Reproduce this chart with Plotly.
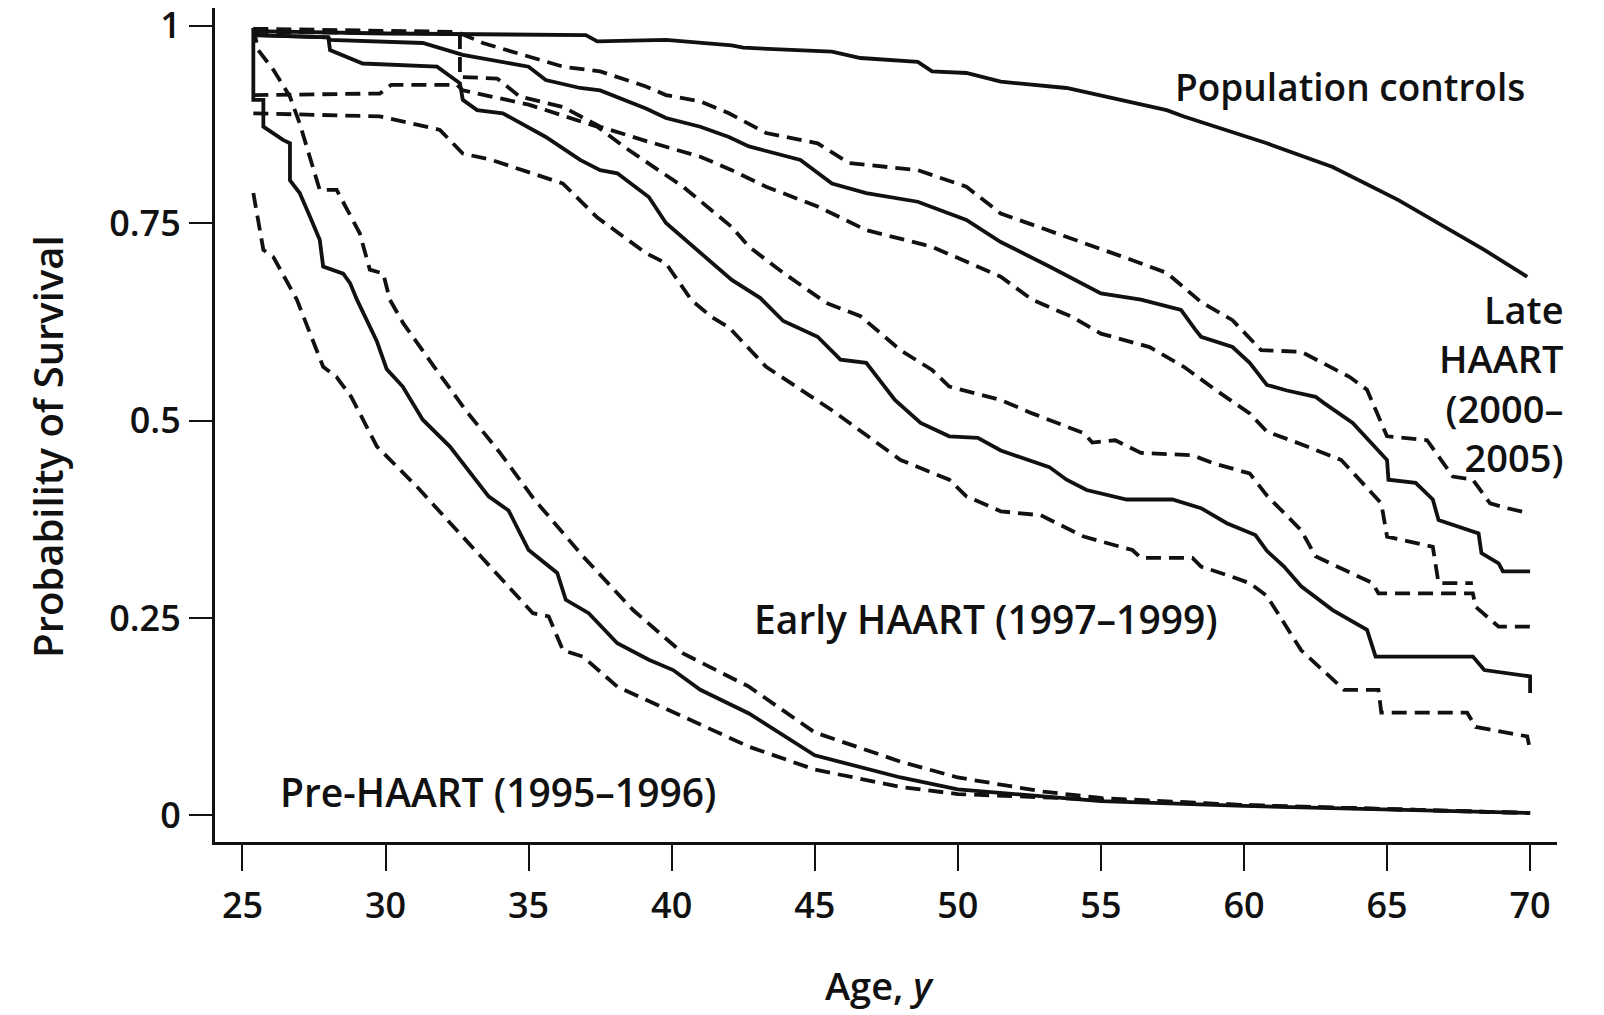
import plotly.graph_objects as go

# ---------------- data ----------------
age_ticks = [25, 30, 35, 40, 45, 50, 55, 60, 65, 70]
surv_ticks = [0, 0.25, 0.5, 0.75, 1]
surv_tick_labels = ["0", "0.25", "0.5", "0.75", "1"]

pop_age = [25.38, 30.0, 37.0, 37.4, 39.8, 42.1, 42.5, 45.6, 46.6, 48.6, 49.1, 50.3, 51.5,
           53.8, 57.3, 57.9, 60.8, 63.1, 65.4, 68.4, 69.9]
pop_surv = [0.993, 0.990, 0.988, 0.980, 0.982, 0.975, 0.972, 0.967, 0.959, 0.954, 0.942, 0.940,
            0.929, 0.921, 0.893, 0.885, 0.851, 0.821, 0.779, 0.716, 0.682]

late_age = [25.38, 28.0, 28.06, 31.3, 32.7, 35.0, 35.6, 36.8, 37.5, 39.1, 39.8, 41.0, 42.0,
            42.7, 44.5, 45.6, 46.8, 48.6, 50.3, 51.5, 53.2, 55.0, 56.4, 57.8, 58.3, 58.5, 59.6,
            60.2, 60.8, 61.5, 62.5, 62.8, 63.8, 65.0, 65.05, 66.0, 66.6, 66.8, 68.2, 68.3, 68.9,
            69.05, 70.0]
late_surv = [0.988, 0.985, 0.982, 0.978, 0.963, 0.948, 0.931, 0.921, 0.918, 0.895, 0.883, 0.872,
             0.859, 0.847, 0.830, 0.800, 0.788, 0.777, 0.754, 0.726, 0.695, 0.661, 0.653, 0.640,
             0.615, 0.606, 0.593, 0.573, 0.545, 0.538, 0.530, 0.522, 0.497, 0.450, 0.425, 0.421,
             0.400, 0.374, 0.357, 0.332, 0.319, 0.309, 0.309]

late_up_age = [25.38, 32.5, 33.4, 36.2, 37.5, 39.1, 39.8, 41.0, 42.0, 43.3, 45.1, 46.2, 48.6,
               50.3, 51.5, 53.8, 56.1, 57.3, 58.5, 59.6, 60.6, 62.0, 63.7, 64.3, 65.0, 66.4,
               66.8, 67.3, 68.0, 68.6, 69.2, 69.9]
late_up_surv = [0.996, 0.992, 0.978, 0.948, 0.942, 0.923, 0.912, 0.904, 0.889, 0.864, 0.851,
                0.826, 0.817, 0.796, 0.762, 0.733, 0.703, 0.687, 0.650, 0.627, 0.589, 0.587,
                0.555, 0.539, 0.480, 0.475, 0.454, 0.429, 0.425, 0.395, 0.389, 0.383]

late_lo_age = [25.38, 32.6, 32.6, 33.9, 34.7, 36.2, 37.5, 39.0, 41.0, 42.1, 43.3, 45.1, 46.8,
               49.1, 51.5, 52.6, 54.0, 55.0, 56.7, 57.9, 59.0, 60.2, 60.8, 62.0, 63.4, 64.8,
               65.0, 66.6, 66.8, 68.0]
late_lo_surv = [0.992, 0.990, 0.935, 0.933, 0.910, 0.897, 0.872, 0.855, 0.834, 0.817, 0.796,
                0.771, 0.741, 0.720, 0.682, 0.653, 0.631, 0.610, 0.593, 0.568, 0.539, 0.509,
                0.486, 0.470, 0.450, 0.395, 0.353, 0.340, 0.294, 0.294]

early_age = [25.38, 28.0, 28.06, 29.2, 31.8, 32.6, 32.7, 33.2, 34.1, 35.6, 36.8, 37.5, 38.1,
             39.2, 39.8, 41.0, 42.1, 43.1, 43.9, 45.1, 45.9, 46.8, 47.8, 48.7, 49.7, 50.7, 51.5,
             53.2, 53.8, 54.5, 55.9, 57.5, 58.5, 59.4, 60.4, 60.8, 61.4, 62.0, 63.1, 64.3, 64.6,
             68.0, 68.4, 70.0, 70.0]
early_surv = [0.988, 0.985, 0.969, 0.952, 0.948, 0.927, 0.906, 0.893, 0.889, 0.859, 0.830, 0.817,
              0.813, 0.783, 0.750, 0.712, 0.678, 0.655, 0.626, 0.606, 0.577, 0.573, 0.526, 0.497,
              0.480, 0.478, 0.462, 0.441, 0.425, 0.412, 0.400, 0.400, 0.389, 0.370, 0.355, 0.335,
              0.315, 0.290, 0.260, 0.235, 0.201, 0.201, 0.184, 0.176, 0.155]

early_up_age = [25.38, 29.8, 30.2, 32.5, 32.7, 35.0, 37.4, 38.4, 39.7, 40.4, 42.1, 42.7, 43.9,
                45.4, 46.6, 48.0, 49.1, 49.7, 51.5, 52.6, 54.4, 54.7, 55.5, 56.4, 58.2, 59.0,
                60.2, 60.8, 61.4, 62.0, 62.5, 64.5, 64.7, 68.0, 68.1, 68.9, 70.0]
early_up_surv = [0.912, 0.914, 0.925, 0.925, 0.918, 0.900, 0.872, 0.845, 0.813, 0.796, 0.745,
                 0.720, 0.687, 0.649, 0.632, 0.589, 0.564, 0.543, 0.526, 0.509, 0.484, 0.472,
                 0.475, 0.459, 0.456, 0.445, 0.433, 0.405, 0.383, 0.361, 0.328, 0.294, 0.281,
                 0.281, 0.264, 0.239, 0.239]

early_lo_age = [25.38, 29.8, 31.9, 32.7, 33.7, 36.2, 37.4, 39.1, 39.8, 40.7, 41.4, 42.0, 43.3,
                45.6, 48.0, 49.7, 50.3, 51.5, 52.9, 54.4, 56.1, 56.4, 58.2, 58.5, 59.6, 60.2,
                60.8, 62.0, 63.5, 64.7, 64.8, 67.8, 68.1, 69.9, 70.0]
early_lo_surv = [0.889, 0.885, 0.868, 0.838, 0.830, 0.800, 0.757, 0.712, 0.699, 0.652, 0.631,
                 0.618, 0.568, 0.513, 0.450, 0.425, 0.404, 0.385, 0.380, 0.353, 0.336, 0.326,
                 0.326, 0.315, 0.302, 0.294, 0.278, 0.209, 0.159, 0.159, 0.130, 0.130, 0.112,
                 0.100, 0.083]

pre_age = [25.38, 25.38, 25.73, 25.73, 26.43, 26.66, 26.66, 27.0, 27.36, 27.7, 27.82, 28.52,
           28.76, 29.0, 29.7, 30.04, 30.6, 31.3, 32.25, 32.8, 33.6, 34.3, 35.0, 36.0, 36.3, 37.1,
           38.1, 39.2, 40.05, 41.0, 42.7, 45.0, 48.0, 50.0, 55.0, 60.0, 65.0, 70.0]
pre_surv = [0.997, 0.906, 0.906, 0.872, 0.855, 0.851, 0.804, 0.788, 0.758, 0.729, 0.695, 0.686,
            0.674, 0.653, 0.600, 0.565, 0.543, 0.501, 0.467, 0.441, 0.404, 0.386, 0.336, 0.307,
            0.273, 0.256, 0.218, 0.197, 0.184, 0.159, 0.129, 0.076, 0.048, 0.033, 0.018, 0.012,
            0.008, 0.003]

pre_up_age = [25.38, 25.55, 26.08, 26.66, 27.0, 27.36, 27.7, 28.29, 29.1, 29.45, 29.92, 30.15,
              30.62, 31.7, 32.8, 34.0, 35.2, 36.9, 38.65, 40.4, 42.7, 45.0, 48.0, 50.0, 53.0,
              55.0, 60.0, 65.0, 70.0]
pre_up_surv = [0.997, 0.969, 0.944, 0.910, 0.876, 0.834, 0.792, 0.792, 0.737, 0.691, 0.686,
               0.653, 0.623, 0.568, 0.513, 0.459, 0.400, 0.328, 0.260, 0.205, 0.163, 0.105,
               0.068, 0.048, 0.030, 0.022, 0.013, 0.008, 0.003]

pre_lo_age = [25.38, 25.73, 26.08, 26.9, 27.82, 28.29, 28.8, 29.7, 31.1, 32.8, 34.0, 35.15,
              35.7, 36.2, 36.9, 38.1, 40.4, 42.7, 45.0, 48.0, 50.0, 52.0, 55.0, 60.0, 65.0, 70.0]
pre_lo_surv = [0.788, 0.716, 0.707, 0.653, 0.568, 0.555, 0.530, 0.467, 0.416, 0.349, 0.302,
               0.256, 0.252, 0.209, 0.201, 0.163, 0.125, 0.087, 0.058, 0.036, 0.027, 0.024,
               0.020, 0.013, 0.008, 0.003]

# ---------------- figure ----------------
FONT = "Open Sans"
INK = "#111111"
LW = 3.8
DASH = "15px,8px"

series = [
    ("Population controls", pop_age, pop_surv, "solid"),
    ("Late HAART", late_age, late_surv, "solid"),
    ("Late HAART upper CI", late_up_age, late_up_surv, DASH),
    ("Late HAART lower CI", late_lo_age, late_lo_surv, DASH),
    ("Early HAART", early_age, early_surv, "solid"),
    ("Early HAART upper CI", early_up_age, early_up_surv, DASH),
    ("Early HAART lower CI", early_lo_age, early_lo_surv, DASH),
    ("Pre-HAART", pre_age, pre_surv, "solid"),
    ("Pre-HAART upper CI", pre_up_age, pre_up_surv, DASH),
    ("Pre-HAART lower CI", pre_lo_age, pre_lo_surv, DASH),
]

fig = go.Figure()
for name, xs, ys, dash in series:
    fig.add_trace(go.Scatter(
        x=xs, y=ys, mode="lines", name=name,
        line=dict(color=INK, width=LW, dash=dash, shape="linear"),
        showlegend=False, hoverinfo="skip"))

def lab_font(size):
    return dict(family=FONT, size=size, color=INK, weight=600)

fig.add_annotation(x=63.7, y=0.9235, text="Population controls", showarrow=False,
                   xanchor="center", yanchor="middle", font=lab_font(37))
fig.add_annotation(xref="paper", yref="paper", x=1.007, y=0.55,
                   text="Late<br>HAART<br>(2000–<br>2005)", showarrow=False,
                   xanchor="right", yanchor="middle", align="right", font=lab_font(38))
fig.add_annotation(x=51.0, y=0.2487, text="Early HAART (1997–1999)", showarrow=False,
                   xanchor="center", yanchor="middle", font=lab_font(39))
fig.add_annotation(x=33.94, y=0.0306, text="Pre-HAART (1995–1996)", showarrow=False,
                   xanchor="center", yanchor="middle", font=lab_font(39))

# axis titles
fig.add_annotation(xref="paper", yref="paper", x=-0.125, y=0.474, text="Probability of Survival",
                   textangle=-90, showarrow=False, xanchor="center", yanchor="middle",
                   font=lab_font(40))
fig.add_annotation(xref="paper", yref="paper", x=0.495, y=-0.172, text="Age, <i>y</i>",
                   showarrow=False, xanchor="center", yanchor="middle", font=lab_font(38))

tick_font = dict(family=FONT, size=36, color=INK, weight=600)
fig.update_layout(
    width=1604, height=1015,
    margin=dict(l=215, r=47, t=8, b=173, autoexpand=False),
    paper_bgcolor="white", plot_bgcolor="white",
    xaxis=dict(range=[24.04, 70.94], tickvals=age_ticks, ticktext=[str(a) for a in age_ticks],
               ticks="outside", ticklen=26, tickwidth=2.2, tickcolor=INK, automargin=False,
               showline=True, linewidth=3, linecolor=INK, showgrid=False, zeroline=False,
               ticklabelstandoff=4, ticklabeloverflow="allow", tickfont=tick_font),
    yaxis=dict(range=[-0.0337, 1.0223], tickvals=surv_ticks, ticktext=surv_tick_labels,
               ticks="outside", ticklen=23, tickwidth=2.2, tickcolor=INK, automargin=False,
               showline=True, linewidth=3, linecolor=INK, showgrid=False, zeroline=False,
               ticklabelstandoff=1, ticklabeloverflow="allow", tickfont=tick_font),
)

# remove the default page margin so the figure sits at the window's top-left corner
fig.write_html("out.html", config={"displayModeBar": False},
               post_script="document.body.style.margin='0';")
